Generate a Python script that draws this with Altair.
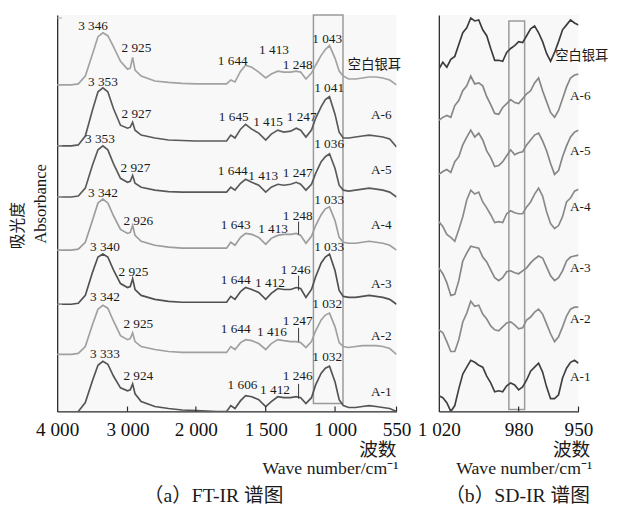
import altair as alt
import pandas as pd

SERIES = ["空白银耳", "A-6", "A-5", "A-4", "A-3", "A-2", "A-1"]

# ---------------- (a) FT-IR ----------------
WN_A = [4000, 3800, 3700, 3600, 3500, 3420, 3350, 3280, 3200, 3100, 3000, 2960, 2925, 2890,
        2800, 2600, 2400, 2200, 2000, 1850, 1780, 1750, 1720, 1680, 1644, 1600, 1550, 1500,
        1460, 1413, 1370, 1320, 1280, 1248, 1210, 1170, 1140, 1100, 1070, 1040, 1000, 970,
        940, 900, 850, 800, 750, 700, 650, 600, 550]
FT_BLANK = [0, 0, 1, 9, 31, 49, 53, 50, 39, 24, 16, 17, 28, 15, 9, 4, 2.5, 1.5, 1, 1, 1, 5, 3,
            14, 20, 18, 13, 7, 11, 14, 13, 13, 14, 13, 6, 12, 20, 30, 36, 40, 27, 14, 9, 6, 6,
            7, 8, 8, 7, 5, 0]
FT_A6 = [0, 0, 1, 10, 36, 55, 59, 55, 38, 21, 18, 19, 24, 16, 11, 8, 6, 5.5, 5, 5, 5, 11, 8,
         17, 22, 17, 13, 6, 12, 16, 14, 15, 18, 16, 9, 16, 28, 40, 47, 50, 32, 14, 8, 8, 9, 10,
         11, 10, 9, 7, -1]
FT_A5 = [0, 0, 1, 9, 32, 48, 52, 48, 34, 19, 15, 16, 22, 14, 10, 7, 5.5, 5, 5, 5, 5, 10, 7,
         14, 18, 15, 12, 5, 10, 13, 12, 13, 15, 13, 7, 13, 24, 36, 41, 44, 29, 12, 7, 6, 7, 8,
         9, 8, 7, 5, 0]
FT_A4 = [0, 0, 1, 8, 30, 48, 52, 48, 35, 21, 17, 18, 25, 15, 9, 5, 3, 2, 2, 2, 2, 8, 5, 13,
         17, 16, 13, 6, 12, 15, 16, 16, 17, 15, 7, 14, 25, 36, 42, 44, 30, 13, 8, 7, 7, 8, 9,
         8, 7, 5, 0]
FT_A3 = [0, 0, 1, 9, 32, 48, 51, 48, 35, 21, 17, 18, 26, 15, 9, 5, 3, 2, 2, 2, 2, 8, 5, 13,
         17, 15, 12, 5, 11, 16, 15, 15, 17, 16, 7, 15, 28, 42, 48, 51, 34, 14, 8, 7, 7, 8, 9,
         8, 7, 5, 0]
FT_A2 = [0, 0, 1, 8, 30, 46, 50, 47, 34, 19, 15, 16, 22, 13, 8, 5, 3, 2, 2, 2, 2, 8, 5, 12,
         15, 14, 11, 5, 11, 15, 14, 13, 13, 12, 7, 13, 24, 35, 40, 42, 28, 12, 8, 7, 8, 9, 9,
         9, 8, 6, 0]
FT_A1 = [-3, -2, 0, 9, 31, 47, 51, 48, 36, 24, 21, 22, 28, 18, 10, 5, 3, 1.5, 1, 0, 0, 6, 3,
         11, 16, 15, 12, 5, 10, 15, 14, 14, 15, 14, 8, 14, 27, 39, 44, 46, 30, 12, 6, 4, 4, 5,
         6, 5, 4, 3, 0]
FT_TRACES = [FT_BLANK, FT_A6, FT_A5, FT_A4, FT_A3, FT_A2, FT_A1]
OFFSET_A = [332, 270, 218, 164, 109, 58, 0]
COLORS_A = ["#a2a2a2", "#595959", "#5a5a5a", "#9c9c9c", "#505050", "#a0a0a0", "#545454"]

X_TICKS_A = [4000, 3000, 2000, 1500, 1000, 550]
X_RANGE_A = [0, 71.5, 141, 212, 282.5, 345]

PEAK_TEXT = ["3 346", "2 925", "1 644", "1 413", "1 248", "1 043",
             "3 353", "2 927", "1 645", "1 415", "1 247", "1 041",
             "3 353", "2 927", "1 644", "1 413", "1 247", "1 036",
             "3 342", "2 926", "1 643", "1 413", "1 248", "1 033",
             "3 340", "2 925", "1 644", "1 412", "1 246", "1 033",
             "3 342", "2 925", "1 644", "1 416", "1 247", "1 032",
             "3 333", "2 924", "1 606", "1 412", "1 246", "1 032"]
PEAK_WN = [3490, 2870, 1736, 1440, 1270, 1057,
           3350, 2870, 1729, 1483, 1241, 1043,
           3392, 2885, 1736, 1518, 1270, 1043,
           3350, 2842, 1715, 1447, 1270, 1043,
           3322, 2914, 1715, 1469, 1284, 1043,
           3322, 2842, 1715, 1455, 1270, 1057,
           3322, 2842, 1666, 1433, 1270, 1057]
PEAK_Y = [392, 369, 356, 367, 352, 379,
          335, 302, 299, 294, 299, 329,
          277, 247, 244, 239, 242, 272,
          222, 194, 189, 185, 199, 215,
          167, 142, 134, 131, 144, 167,
          116, 89, 84, 81, 92, 109,
          58, 36, 27, 22, 36, 55]

LEADER_WN = [1263, 1263, 1263, 1263]
LEADER_Y1 = [180, 123, 71, 13]
LEADER_Y2 = [193, 138, 85, 28]

LABEL_A_WN = [712, 662, 662, 662, 662, 662, 662]
LABEL_A_Y = [352, 301, 245, 190, 130, 77, 20]

BOX_A = {"x1": 1156, "x2": 942, "y1": 8, "y2": 403}

# ---------------- (b) SD-IR ----------------
WN_B = [1020, 1018, 1016, 1014, 1012, 1010, 1008, 1006, 1004, 1002, 1000, 998, 996, 994,
        992, 990, 988, 986, 984, 982, 980, 978, 976, 974, 972, 970, 968, 966, 964, 962,
        960, 958, 956, 954, 952, 950]
SD_BLANK = [0, 7, 2, 10, 13, 25, 37, 42, 52, 49, 50, 40, 34, 21, 9, 9, 8, 17, 21, 24, 28, 27,
            34, 41, 44, 37, 28, 16, 8, 17, 28, 40, 45, 50, 47, 45]
SD_A6 = [0, 3, 5, 3, 15, 20, 30, 35, 45, 37, 38, 35, 24, 16, 7, 6, 13, 17, 21, 18, 17, 22,
         27, 30, 38, 43, 30, 19, 8, 3, 10, 22, 34, 43, 46, 47]
SD_A5 = [0, 3, 5, 2, 13, 18, 30, 38, 45, 38, 42, 35, 24, 17, 8, 9, 13, 19, 25, 20, 22, 23,
         30, 35, 40, 42, 34, 24, 11, 0, 4, 18, 29, 38, 43, 45]
SD_A4 = [0, -5, -13, -16, -20, -8, 5, 22, 32, 28, 30, 20, 14, 7, -1, 0, -1, 8, 11, 9, 8, 8,
         15, 20, 28, 34, 26, 10, -2, -7, -4, 5, 20, 24, 31, 33]
SD_A3 = [0, -6, -15, -28, -27, -13, 7, 15, 22, 21, 20, 11, 6, -2, -10, -13, -10, -4, -3, -5,
         -6, -3, 0, 5, 9, 12, 10, 1, -8, -13, -10, -3, 7, 11, 12, 13]
SD_A2 = [0, -3, -12, -22, -22, -10, 8, 17, 29, 24, 25, 16, 11, 4, 0, -1, 3, 7, 8, 5, 1, 2,
         10, 13, 18, 21, 16, 6, -4, -12, -7, 3, 14, 21, 23, 23]
SD_A1 = [0, -2, -7, -16, -10, 7, 22, 29, 36, 34, 31, 29, 20, 13, 4, 5, 4, 10, 13, 11, 6, 9,
         16, 25, 29, 33, 24, 9, -3, -3, 1, 18, 28, 34, 36, 33]
SD_TRACES = [SD_BLANK, SD_A6, SD_A5, SD_A4, SD_A3, SD_A2, SD_A1]
OFFSET_B = [348, 296, 241, 193, 146, 83, 16]
COLORS_B = ["#3c3c3c", "#868686", "#868686", "#8a8a8a", "#868686", "#8a8a8a", "#404040"]

X_TICKS_B = [1020, 980, 950]
LABEL_B_WN = [961.7, 954.3, 954.3, 954.3, 954.3, 954.3, 954.3]
LABEL_B_Y = [361, 321, 265, 208, 146, 94, 35]
BOX_B = {"x1": 984.9, "x2": 977, "y1": 2, "y2": 397}

# ---------------- layout / style ----------------
W_A, W_B, H = 345, 142, 403
SERIF = "Liberation Serif"
MIXED = "Liberation Serif, Noto Sans CJK SC"
AXIS_COLOR = "#2a2a2a"


def traces_df(wn, traces, offsets):
    rows = []
    for name, vals, off in zip(SERIES, traces, offsets):
        for w, v in zip(wn, vals):
            rows.append({"series": name, "wn": w, "absorb": off + v})
    return pd.DataFrame(rows)


def fixed_text(text, x, y, size, font=MIXED, align="center", angle=0):
    return alt.Chart(pd.DataFrame({"t": [text]})).mark_text(
        font=font, fontSize=size, align=align, baseline="middle", angle=angle,
        color="#1a1a1a").encode(x=alt.value(x), y=alt.value(y), text="t:N")


def panel(wn, traces, offsets, colors, xscale, ticks, width, box, lab_wn, lab_y,
          lab_size, lab_align, extra_layers):
    x = alt.X("wn:Q", scale=xscale, axis=alt.Axis(
        values=ticks, labelExpr="replace(format(datum.value, ','), ',', ' ')",
        ticks=False, grid=False, title=None, domainColor=AXIS_COLOR, domainWidth=1.3,
        labelFont=SERIF, labelFontSize=19.5, labelColor="#111", labelPadding=9,
        labelFlush=False, labelOverlap=False))
    y_scale = alt.Scale(domain=[0, H], nice=False, zero=False)
    y = alt.Y("absorb:Q", scale=y_scale, axis=alt.Axis(
        labels=False, ticks=False, grid=False, title=None, domainColor=AXIS_COLOR,
        domainWidth=1.3))

    df = traces_df(wn, traces, offsets)
    lines = alt.Chart(df).mark_line(strokeWidth=1.7, clip=True).encode(
        x=x, y=y,
        color=alt.Color("series:N", scale=alt.Scale(domain=SERIES, range=colors), legend=None),
        detail="series:N", order="wn:Q")

    box_layer = alt.Chart(pd.DataFrame([box])).mark_rect(
        fillOpacity=0, stroke="#9a9a9a", strokeWidth=1.5).encode(
        x=alt.X("x1:Q", scale=xscale), x2="x2:Q",
        y=alt.Y("y1:Q", scale=y_scale), y2="y2:Q")

    tick_df = pd.DataFrame({"wn": ticks[1:], "y0": [0] * (len(ticks) - 1),
                            "y1": [5] * (len(ticks) - 1)})
    xticks = alt.Chart(tick_df).mark_rule(color=AXIS_COLOR, strokeWidth=1.2).encode(
        x=alt.X("wn:Q", scale=xscale), y=alt.Y("y0:Q", scale=y_scale), y2="y1:Q")

    lab_df = pd.DataFrame({"t": SERIES, "wn": lab_wn, "y": lab_y})
    labels = alt.Chart(lab_df).mark_text(
        font=MIXED, fontSize=lab_size, align=lab_align,
        baseline="middle", color="#1a1a1a").encode(
        x=alt.X("wn:Q", scale=xscale), y=alt.Y("y:Q", scale=y_scale), text="t:N")

    return alt.layer(box_layer, lines, xticks, labels, *extra_layers).properties(
        width=width, height=H)


xscale_a = alt.Scale(domain=X_TICKS_A, range=X_RANGE_A, nice=False, zero=False)
xscale_b = alt.Scale(domain=[1020, 950], nice=False, zero=False)
yscale = alt.Scale(domain=[0, H], nice=False, zero=False)

peaks = alt.Chart(pd.DataFrame({"t": PEAK_TEXT, "wn": PEAK_WN, "y": PEAK_Y})).mark_text(
    font=SERIF, fontSize=13.5, baseline="middle", color="#1a1a1a").encode(
    x=alt.X("wn:Q", scale=xscale_a), y=alt.Y("y:Q", scale=yscale), text="t:N")

leaders = alt.Chart(pd.DataFrame({"wn": LEADER_WN, "y1": LEADER_Y1, "y2": LEADER_Y2})).mark_rule(
    color="#333", strokeWidth=1).encode(
    x=alt.X("wn:Q", scale=xscale_a), y=alt.Y("y1:Q", scale=yscale), y2="y2:Q")

yticks = alt.Chart(pd.DataFrame({"y": OFFSET_A[:-1] + [H - 3], "x1": [4000] * 7,
                                 "x2": [3930] * 7})).mark_rule(
    color="#aaaaaa", strokeWidth=1).encode(
    x=alt.X("x1:Q", scale=xscale_a), x2="x2:Q", y=alt.Y("y:Q", scale=yscale))

extra_a = [peaks, leaders, yticks,
           fixed_text("吸光度", -40, 214, 16, angle=270),
           fixed_text("Absorbance", -16, 192, 17, font=SERIF, angle=270),
           fixed_text("波数", W_A, H + 39, 19, align="right"),
           fixed_text("Wave number/cm⁻¹", W_A + 2, H + 59, 18, font=SERIF, align="right"),
           fixed_text("（a）FT-IR 谱图", 159, H + 86, 20)]

extra_b = [fixed_text("波数", 154, H + 39, 19, align="right"),
           fixed_text("Wave number/cm⁻¹", 156, H + 59, 18, font=SERIF, align="right"),
           fixed_text("（b）SD-IR 谱图", 80, H + 86, 20)]

panel_a = panel(WN_A, FT_TRACES, OFFSET_A, COLORS_A, xscale_a, X_TICKS_A, W_A, BOX_A,
                LABEL_A_WN, LABEL_A_Y, 13.5, "center", extra_a)
panel_b = panel(WN_B, SD_TRACES, OFFSET_B, COLORS_B, xscale_b, X_TICKS_B, W_B, BOX_B,
                LABEL_B_WN, LABEL_B_Y, 13.5, "left", extra_b)

chart = alt.hconcat(panel_a, panel_b, spacing=43, bounds="flush").resolve_scale(
    color="independent", x="independent", y="independent"
).properties(
    padding={"left": 2, "top": 2, "right": 0, "bottom": 0}
).configure_view(stroke=None, fill="#f8f8f8")

chart.save("out.html", embed_options={"renderer": "svg", "actions": False})
